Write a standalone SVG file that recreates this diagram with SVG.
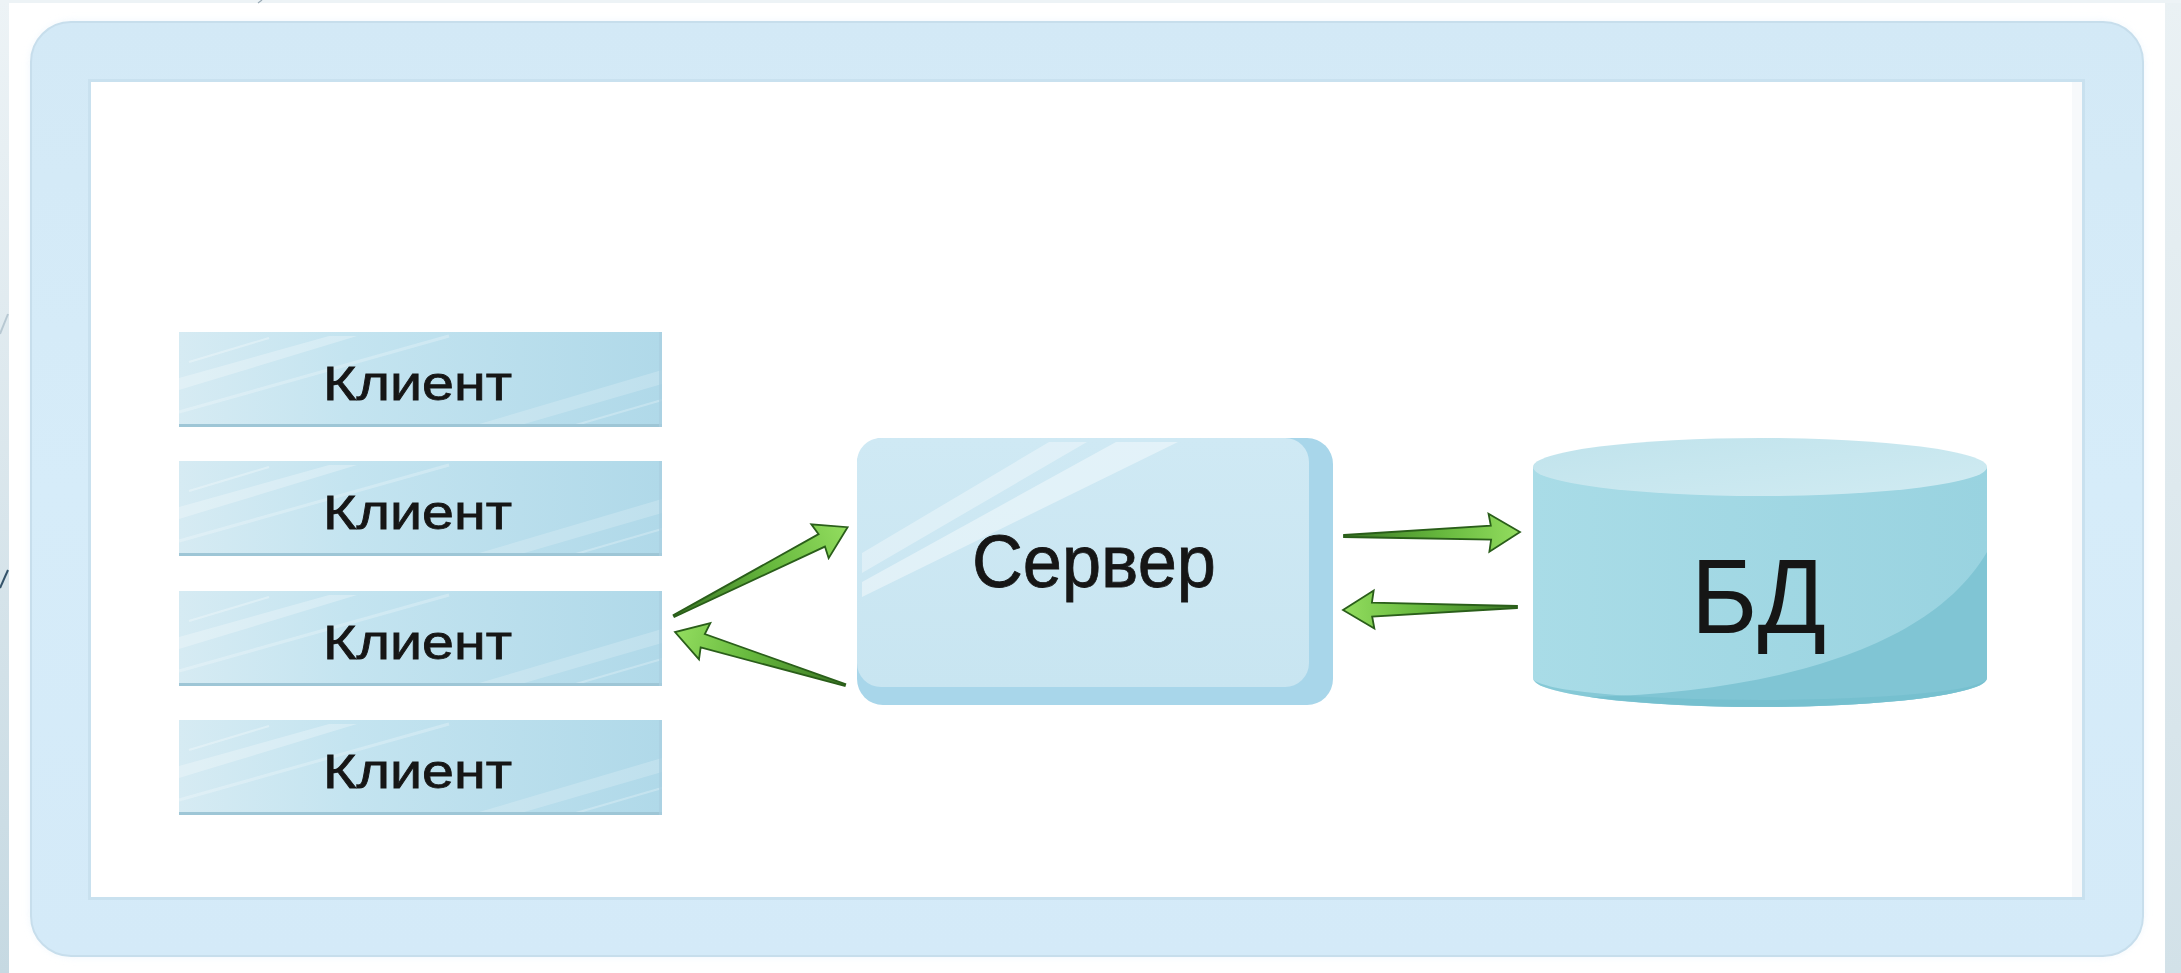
<svg xmlns="http://www.w3.org/2000/svg" xmlns:xlink="http://www.w3.org/1999/xlink" width="2181" height="973" viewBox="0 0 2181 973">
  <defs>
    <style>
      .lbl { font-family: "Liberation Sans", "DejaVu Sans", sans-serif; fill: #161616; text-anchor: start; }
      .thick { stroke: #161616; stroke-width: 0.8; }
      .arrow { stroke: #2a5e1a; stroke-width: 1.8; stroke-linejoin: miter; fill: url(#arrowGrad); }
    </style>
    <linearGradient id="bgLeft" x1="0" y1="0" x2="0" y2="1">
      <stop offset="0" stop-color="#edf3f6"/>
      <stop offset="1" stop-color="#c6d9e2"/>
    </linearGradient>
    <linearGradient id="bgRight" x1="0" y1="0" x2="0" y2="1">
      <stop offset="0" stop-color="#eaf1f4"/>
      <stop offset="1" stop-color="#d2e1e8"/>
    </linearGradient>
    <linearGradient id="frameGrad" x1="0" y1="0" x2="0" y2="1">
      <stop offset="0" stop-color="#d3e9f6"/>
      <stop offset="0.5" stop-color="#d6ecf9"/>
      <stop offset="1" stop-color="#d4eaf8"/>
    </linearGradient>
    <linearGradient id="clientGrad" x1="0" y1="0" x2="1" y2="0">
      <stop offset="0" stop-color="#d6ebf3"/>
      <stop offset="0.35" stop-color="#c4e4f0"/>
      <stop offset="1" stop-color="#b0d9e9"/>
    </linearGradient>
    <linearGradient id="serverFace" x1="0" y1="0" x2="0" y2="1">
      <stop offset="0" stop-color="#cfe9f4"/>
      <stop offset="1" stop-color="#c8e5f1"/>
    </linearGradient>
    <linearGradient id="cylSide" x1="0" y1="0" x2="1" y2="0">
      <stop offset="0" stop-color="#a9dce7"/>
      <stop offset="1" stop-color="#99d3e0"/>
    </linearGradient>
    <linearGradient id="cylTop" x1="0" y1="0" x2="1" y2="1">
      <stop offset="0" stop-color="#c0e3ec"/>
      <stop offset="1" stop-color="#d0ebf2"/>
    </linearGradient>
    <linearGradient id="arrowGrad" x1="0" y1="0" x2="1" y2="0">
      <stop offset="0" stop-color="#3a7524"/>
      <stop offset="0.55" stop-color="#66b83d"/>
      <stop offset="1" stop-color="#93dd5f"/>
    </linearGradient>
    <filter id="glow" x="-5%" y="-5%" width="110%" height="110%">
      <feGaussianBlur stdDeviation="4"/>
    </filter>
    <g id="clientBox">
      <rect x="0" y="0" width="483" height="95" fill="url(#clientGrad)"/>
      <polygon points="0,46 150,4 178,4 0,58" fill="#ffffff" opacity="0.28"/>
      <line x1="0" y1="80" x2="270" y2="4" stroke="#ffffff" stroke-width="3" opacity="0.25"/>
      <line x1="10" y1="30" x2="90" y2="6" stroke="#ffffff" stroke-width="2" opacity="0.3"/>
      <polygon points="290,95 483,38 483,52 335,95" fill="#ffffff" opacity="0.2"/>
      <line x1="390" y1="95" x2="483" y2="68" stroke="#ffffff" stroke-width="2" opacity="0.25"/>
      <rect x="0" y="92" width="483" height="3" fill="#9ec6d6"/>
      <rect x="480" y="0" width="3" height="95" fill="#a9cfdf" opacity="0.7"/>
    </g>
  </defs>

  <!-- background -->
  <rect x="0" y="0" width="2181" height="973" fill="#ffffff"/>
  <rect x="0" y="0" width="9" height="973" fill="url(#bgLeft)"/>
  <rect x="2165" y="0" width="16" height="973" fill="url(#bgRight)"/>
  <rect x="0" y="0" width="2181" height="3" fill="#edf3f6"/>
  <line x1="0" y1="334" x2="8" y2="314" stroke="#b7c8d2" stroke-width="2"/>
  <line x1="0" y1="588" x2="8" y2="570" stroke="#34536a" stroke-width="2"/>
  <line x1="258" y1="3" x2="262" y2="0" stroke="#9aaab5" stroke-width="1.2"/>

  <!-- frame -->
  <g id="frame">
    <rect x="31" y="22" width="2112" height="934" rx="42" ry="42" fill="#e6f2fa" filter="url(#glow)" opacity="0.8"/>
    <rect x="31" y="22" width="2112" height="934" rx="40" ry="40" fill="url(#frameGrad)" stroke="#c7deec" stroke-width="2"/>
    <rect x="88" y="79" width="1997" height="821" fill="#c9e1ef"/>
    <rect x="91" y="82" width="1991" height="815" fill="#ffffff"/>
    <rect x="2072" y="82" width="10" height="815" fill="#f7f9fb"/>
  </g>

  <!-- clients -->
  <g id="client1" transform="translate(179,332)">
    <use xlink:href="#clientBox" href="#clientBox"/>
    <text class="lbl thick" x="144" y="68" font-size="49" textLength="189" lengthAdjust="spacingAndGlyphs">Клиент</text>
  </g>
  <g id="client2" transform="translate(179,461)">
    <use xlink:href="#clientBox" href="#clientBox"/>
    <text class="lbl thick" x="144" y="68" font-size="49" textLength="189" lengthAdjust="spacingAndGlyphs">Клиент</text>
  </g>
  <g id="client3" transform="translate(179,591)">
    <use xlink:href="#clientBox" href="#clientBox"/>
    <text class="lbl thick" x="144" y="68" font-size="49" textLength="189" lengthAdjust="spacingAndGlyphs">Клиент</text>
  </g>
  <g id="client4" transform="translate(179,720)">
    <use xlink:href="#clientBox" href="#clientBox"/>
    <text class="lbl thick" x="144" y="68" font-size="49" textLength="189" lengthAdjust="spacingAndGlyphs">Клиент</text>
  </g>

  <!-- server -->
  <g id="server">
    <rect x="857" y="438" width="476" height="267" rx="26" ry="26" fill="#a8d6ea"/>
    <rect x="857" y="438" width="452" height="249" rx="24" ry="24" fill="url(#serverFace)"/>
    <polygon points="862,553 1049,442 1087,442 862,573" fill="#ffffff" opacity="0.35"/>
    <polygon points="862,582 1116,442 1178,442 862,597" fill="#ffffff" opacity="0.42"/>
    <text class="lbl thick" x="972" y="587" font-size="75" textLength="244" lengthAdjust="spacingAndGlyphs">Сервер</text>
  </g>

  <!-- database -->
  <g id="db">
    <path d="M1533,467 L1533,678 A227,29 0 0 0 1987,678 L1987,467 Z" fill="url(#cylSide)"/>
    <path d="M1590,697 C1770,692 1930,650 1987,552 L1987,678 A227,29 0 0 1 1590,697 Z" fill="#80c5d4"/>
    <path d="M1533,678 A227,29 0 0 0 1987,678 A227,22 0 0 1 1533,678 Z" fill="#6fbccc" opacity="0.6"/>
    <ellipse cx="1760" cy="467" rx="227" ry="29" fill="url(#cylTop)"/>
    <text class="lbl" x="1691" y="633" font-size="105" textLength="135" lengthAdjust="spacingAndGlyphs">БД</text>
  </g>

  <!-- connectors -->
  <g id="connectors">
    <path class="arrow" transform="translate(674,616) rotate(-27.1)" d="M0,-1 L166,-7 L164,-19 L195,0 L164,19 L166,7 L0,1 Z"/>
    <path class="arrow" transform="translate(845,685) rotate(197.3)" d="M0,-1 L149,-7 L147,-19 L178,0 L147,19 L149,7 L0,1 Z"/>
    <path class="arrow" transform="translate(1344,536) rotate(-1.3)" d="M0,-1 L147,-7 L145,-19 L176,0 L145,19 L147,7 L0,1 Z"/>
    <path class="arrow" transform="translate(1517,607) rotate(179)" d="M0,-1 L145,-7 L143,-19 L174,0 L143,19 L145,7 L0,1 Z"/>
  </g>
</svg>
